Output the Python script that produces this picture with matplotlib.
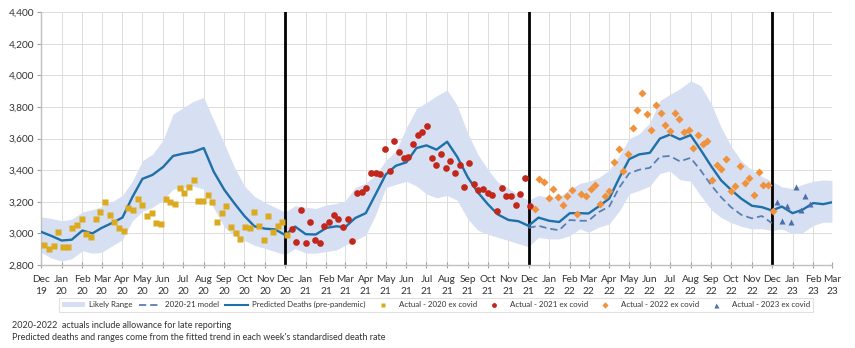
import numpy as np
import pandas as pd
import matplotlib
matplotlib.use("Agg")
import matplotlib.pyplot as plt
from matplotlib.patches import Patch
from matplotlib.lines import Line2D

plt.rcParams['font.family'] = ['Lato', 'DejaVu Sans']

# ---------------- data ----------------
# half-monthly grid (1st and 16th of each month), Dec 2019 .. Mar 2023
predicted = [3010, 2985, 2955, 2960, 3018, 3000, 3035, 3065, 3100, 3230, 3345, 3370, 3420,
             3490, 3505, 3515, 3540, 3390, 3275, 3190, 3110, 3045, 3030, 3025, 2990,
             3043, 2995, 2993, 3035, 3045, 3039, 3097, 3128, 3250, 3373, 3428, 3450,
             3540, 3557, 3530, 3580, 3485, 3355, 3260, 3185, 3120, 3085, 3077, 3048,
             3100, 3080, 3072, 3128, 3128, 3126, 3170, 3220, 3350, 3470, 3500, 3510,
             3600, 3625, 3595, 3622, 3530, 3425, 3335, 3275, 3220, 3175, 3166, 3145,
             3170, 3128, 3150, 3192, 3185, 3197]
range_upper = [3105, 3095, 3080, 3090, 3135, 3150, 3170, 3200, 3240, 3330, 3460, 3500, 3590,
               3755, 3795, 3835, 3860, 3716, 3565, 3420, 3300, 3235, 3195, 3165, 3135,
               3175, 3165, 3158, 3180, 3190, 3205, 3290, 3318, 3370, 3462, 3520, 3670,
               3790, 3828, 3870, 3907, 3810, 3632, 3500, 3405, 3325, 3285, 3245, 3210,
               3240, 3228, 3230, 3280, 3316, 3330, 3352, 3400, 3490, 3600, 3630, 3700,
               3840, 3880, 3915, 3965, 3935, 3820, 3670, 3550, 3460, 3400, 3360, 3330,
               3295, 3283, 3310, 3330, 3338, 3335]
range_lower = [2880, 2845, 2825, 2840, 2890, 2875, 2880, 2920, 2960, 3080, 3140, 3165, 3210,
               3280, 3285, 3300, 3280, 3160, 3040, 2985, 2955, 2925, 2905, 2885, 2865,
               2905, 2875, 2875, 2885, 2895, 2925, 2955, 2990, 3120, 3290, 3310, 3330,
               3300, 3250, 3225, 3240, 3210, 3090, 3020, 2995, 2975, 2955, 2935, 2915,
               2975, 2965, 2965, 2986, 3029, 3007, 3039, 3060, 3140, 3250, 3272, 3300,
               3380, 3395, 3340, 3330, 3240, 3150, 3100, 3068, 3045, 3028, 3030, 3018,
               3028, 2997, 3005, 3050, 3071, 3071]
# 2020-21 model, Dec 2021 .. Dec 2022 on the same half-monthly grid
model_2021 = [3035, 3048, 3030, 3020, 3085, 3080, 3080, 3134, 3170, 3290, 3380, 3403, 3415,
              3485, 3490, 3456, 3478, 3400, 3305, 3228, 3165, 3118, 3095, 3110, 3065]

# weekly actuals (ex covid)
actual_2020 = [2929, 2902, 2919, 3012, 2912, 2917, 3033, 3056, 3092, 2997, 2976, 3092, 3134,
               3198, 3117, 3071, 3033, 3018, 3162, 3149, 3215, 3181, 3113, 3130, 3065, 3060,
               3220, 3198, 3187, 3285, 3255, 3293, 3340, 3204, 3204, 3240, 3198, 3075, 3128,
               3175, 3039, 3003, 2965, 3039, 3035, 3134, 3045, 2959, 3109, 3007, 3045, 3071,
               2993]
actual_2021 = [3029, 2948, 3149, 2940, 3069, 2959, 2938, 3045, 3071, 3115, 3088, 3039, 3088,
               2955, 3255, 3259, 3289, 3384, 3384, 3376, 3535, 3398, 3585, 3512, 3478, 3485,
               3563, 3620, 3640, 3682, 3480, 3432, 3500, 3417, 3460, 3384, 3434, 3296, 3443,
               3311, 3275, 3282, 3255, 3245, 3142, 3290, 3235, 3235, 3182, 3248, 3352, 3172]
actual_2022 = [3155, 3346, 3325, 3223, 3283, 3230, 3177, 3234, 3276, 3120, 3251, 3236, 3278,
               3304, 3187, 3236, 3266, 3452, 3537, 3395, 3501, 3670, 3784, 3886, 3755, 3653,
               3812, 3759, 3689, 3649, 3765, 3727, 3640, 3653, 3543, 3625, 3568, 3583, 3335,
               3431, 3410, 3473, 3266, 3297, 3424, 3318, 3350, 3240, 3388, 3308, 3308, 3141]
actual_2023 = [3200, 3078, 3174, 3075, 3295, 3147, 3236, 3187]

first_week = {'2020': '2019-12-06', '2021': '2020-12-11', '2022': '2021-12-10', '2023': '2022-12-09'}
year_breaks = ['2020-12-01', '2021-12-01', '2022-12-01']

# ---------------- dates ----------------
months = pd.date_range('2019-12-01', '2023-03-01', freq='MS')
grid = months.union(months[:-1] + pd.Timedelta(days=15))
model_dates = grid[(grid >= pd.Timestamp('2021-12-01')) & (grid <= pd.Timestamp('2022-12-01'))]

def weeks(start, n):
    return pd.date_range(start, periods=n, freq='7D')

# ---------------- figure ----------------
fig = plt.figure(figsize=(8.55, 3.48), dpi=100)
ax = fig.add_axes([0.048, 0.2385, 0.925, 0.7265])

band_c = '#d6e0f2'
line_c = '#1f6fa8'
model_c = '#5b7fb3'
c20, c21, c22, c23 = '#dcaa1e', '#c3261a', '#f0923c', '#4a6fab'

ax.fill_between(grid, range_lower, range_upper, color=band_c, lw=0, zorder=1)
for b in year_breaks:
    ax.axvline(pd.Timestamp(b), color='black', lw=2, zorder=2)
ax.plot(model_dates, model_2021, color=model_c, lw=1.3, ls=(0, (4, 2.2)), zorder=3)
ax.plot(grid, predicted, color=line_c, lw=1.7, zorder=4)

ax.plot(weeks(first_week['2020'], len(actual_2020)), actual_2020, ls='none', marker='s',
        ms=4.0, color=c20, mec='none', zorder=5)
ax.plot(weeks(first_week['2021'], len(actual_2021)), actual_2021, ls='none', marker='o',
        ms=4.8, color=c21, mec='none', zorder=5)
ax.plot(weeks(first_week['2022'], len(actual_2022)), actual_2022, ls='none', marker='D',
        ms=4.0, color=c22, mec='none', zorder=5)
ax.plot(weeks(first_week['2023'], len(actual_2023)), actual_2023, ls='none', marker='^',
        ms=4.2, color=c23, mec='none', zorder=5)

ax.set_xlim(months[0], months[-1])
ax.set_ylim(2800, 4400)
ax.set_yticks(np.arange(2800, 4401, 200))
ax.set_yticklabels([f'{v:,}' for v in range(2800, 4401, 200)])
ax.set_xticks(months)
ax.set_xticklabels([f'{d:%b}\n{d:%y}' for d in months])

ax.grid(True, color='#dcdcdc', lw=0.7, zorder=0)
ax.set_axisbelow(True)
for s in ['top', 'right']:
    ax.spines[s].set_visible(False)
for s in ['left', 'bottom']:
    ax.spines[s].set_color('#bfbfbf')
    ax.spines[s].set_linewidth(1.0)
ax.tick_params(axis='x', direction='inout', length=5, color='#a0a0a0', labelsize=7.3,
               labelcolor='#333333', pad=5)
ax.tick_params(axis='y', direction='out', length=3, color='#a0a0a0', labelsize=7.3,
               labelcolor='#333333', pad=2)
for lab in ax.get_xticklabels():
    lab.set_linespacing(1.3)

handles = [
    Patch(facecolor=band_c, edgecolor='none'),
    Line2D([], [], color=model_c, lw=1.3, ls=(0, (4, 2.2))),
    Line2D([], [], color=line_c, lw=1.5),
    Line2D([], [], ls='none', marker='s', ms=3.5, color=c20, mec='none'),
    Line2D([], [], ls='none', marker='o', ms=3.5, color=c21, mec='none'),
    Line2D([], [], ls='none', marker='D', ms=3.2, color=c22, mec='none'),
    Line2D([], [], ls='none', marker='^', ms=3.6, color=c23, mec='none'),
]
labels = ['Likely Range', '2020-21 model', 'Predicted Deaths (pre-pandemic)',
          'Actual - 2020 ex covid', 'Actual - 2021 ex covid', 'Actual - 2022 ex covid',
          'Actual - 2023 ex covid']
leg = fig.legend(handles, labels, loc='center', bbox_to_anchor=(0.51, 0.124), ncol=7,
                 fontsize=5.7, frameon=True, fancybox=False, edgecolor='#d9d9d9',
                 handlelength=2.8, handleheight=0.6, columnspacing=0.75, handletextpad=0.6,
                 borderpad=0.45, labelcolor='#333333')
leg.get_frame().set_linewidth(0.8)

fig.text(12 / 855, 1 - 325 / 348, '2020-2022  actuals include allowance for late reporting',
         fontsize=6.5, color='#333333', va='center', ha='left')
fig.text(12 / 855, 1 - 337 / 348,
         "Predicted deaths and ranges come from the fitted trend in each week's standardised death rate",
         fontsize=6.5, color='#333333', va='center', ha='left')

fig.savefig('out.png', dpi=100)
